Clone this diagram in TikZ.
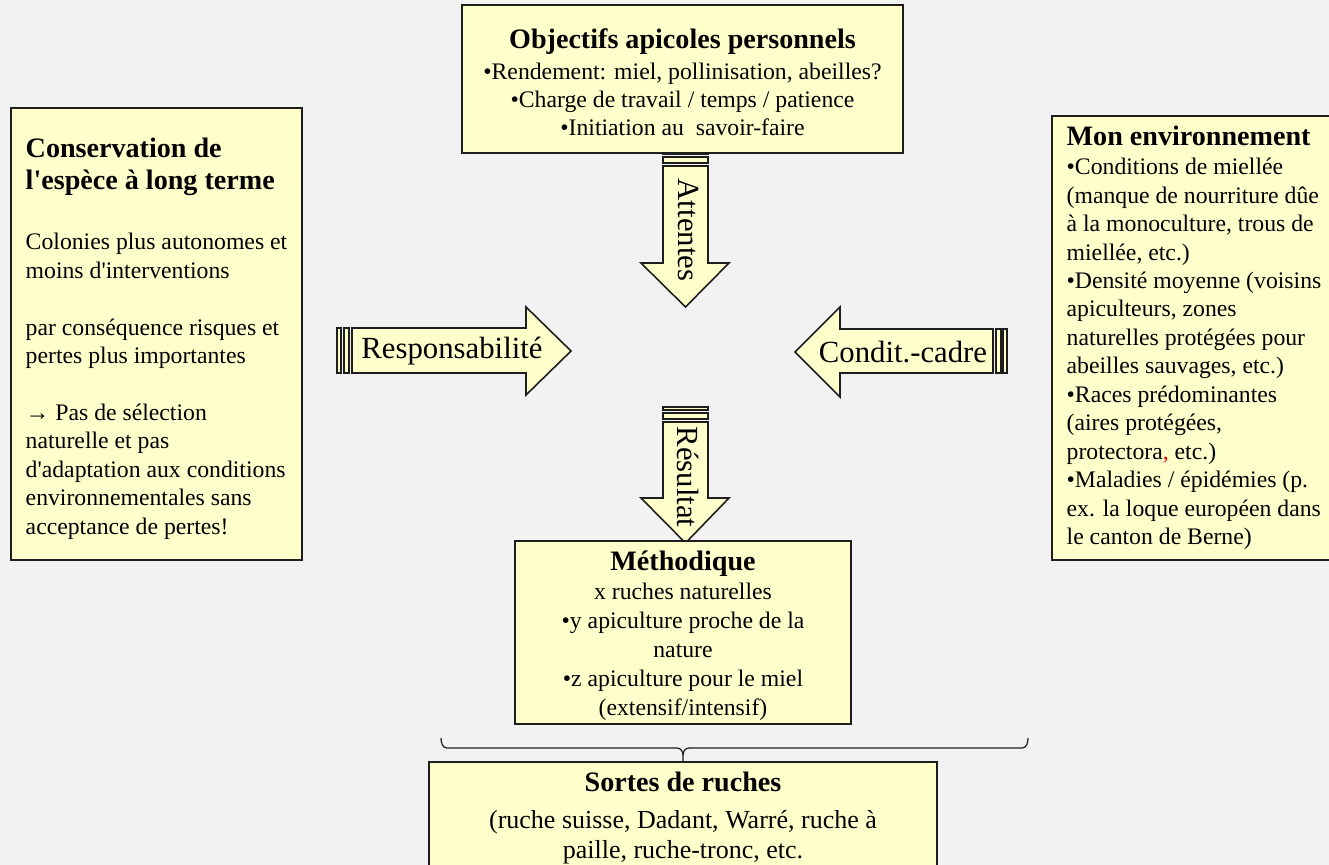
\documentclass[tikz,border=0pt]{standalone}
\usepackage{fontspec}
\setmainfont{Liberation Serif}
\definecolor{Paper}{HTML}{F2F2F2}
\definecolor{Butter}{HTML}{FFFFCC}
\definecolor{Ink}{HTML}{1E1E1E}
\newcommand\bodysize{\fontsize{13.5}{16.2}\selectfont}
\newcommand\headsize{\fontsize{16}{19}\selectfont\bfseries}
\newcommand\apos{\textquotesingle}
\newcommand\topgap[1]{\rule{0pt}{#1}}
\tikzset{
  panel/.style={draw=Ink,fill=Butter,line width=.9pt,inner sep=2pt,font=\bodysize},
  shaft/.style={draw=Ink,fill=Butter,line width=.9pt,line join=miter},
  tag/.style={font=\fontsize{17.5}{21}\selectfont,inner sep=0pt},
  bracket/.style={draw=Ink,line width=.7pt}
}
\begin{document}
\begin{tikzpicture}[x=0.02cm,y=-0.02cm]
  \useasboundingbox (0,0) rectangle (1329,865);
  \clip (0,0) rectangle (1329,865);
  \fill[Paper] (0,0) rectangle (1329,865);
  % striped arrows
  \draw[shaft] (663,150) rectangle (708,154);
  \draw[shaft] (663,157) rectangle (708,163);
  \draw[shaft] (663,166) -- (708,166) -- (708,263) -- (729,263) -- (685.5,307) -- (641,263) -- (663,263) -- cycle;
  \draw[shaft] (663,407) rectangle (708,410);
  \draw[shaft] (663,413) rectangle (708,419);
  \draw[shaft] (663,422) -- (708,422) -- (708,498) -- (729,498) -- (685.5,543) -- (641,498) -- (663,498) -- cycle;
  \draw[shaft] (337,328) rectangle (341,373);
  \draw[shaft] (344,328) rectangle (349,373);
  \draw[shaft] (352,328) -- (526,328) -- (526,307) -- (571,351) -- (526,395) -- (526,373) -- (352,373) -- cycle;
  \draw[shaft] (996,329) rectangle (1001,373);
  \draw[shaft] (1003,329) rectangle (1007,373);
  \draw[shaft] (993,329) -- (840,329) -- (840,307) -- (795,352) -- (840,397) -- (840,373) -- (993,373) -- cycle;
  \node[tag,rotate=-90] (att) at (688,230) {Attentes};
  \node[tag,rotate=-90] (res) at (688,477) {Résultat};
  \node[tag] (resp) at (452,351) {Responsabilité};
  \node[tag] (cond) at (903,352) {Condit.-cadre};
  % boxes
  \node[panel,align=center,minimum width=8.82cm,minimum height=2.96cm] (obj) at (682.5,79)
    {\topgap{15pt}{\headsize Objectifs apicoles personnels}\\[1.6pt]
     •Rendement: miel, pollinisation, abeilles?\\[-0.4pt]
     •Charge de travail / temps / patience\\[-0.4pt]
     •Initiation au~ savoir-faire};
  \node[panel,align=left,minimum width=5.82cm,minimum height=9.04cm] (cons) at (156.5,334)
    {\topgap{16.5pt}{\headsize Conservation de}\\[2pt]
     {\headsize l\apos espèce à long terme}\\[18pt]
     Colonies plus autonomes et\\
     moins d\apos interventions\\[16.2pt]
     par conséquence risques et\\
     pertes plus importantes\\[16.2pt]
     → Pas de sélection\\
     naturelle et pas\\
     d\apos adaptation aux conditions\\
     environnementales sans\\
     acceptance de pertes!};
  \node[panel,align=left,minimum width=5.68cm,minimum height=8.88cm] (env) at (1194,338)
    {{\headsize Mon environnement}\\[0.2pt]
     •Conditions de miellée\\
     (manque de nourriture dûe\\
     à la monoculture, trous de\\
     miellée, etc.)\\
     •Densité moyenne (voisins\\
     apiculteurs, zones\\
     naturelles protégées pour\\
     abeilles sauvages, etc.)\\
     •Races prédominantes\\
     (aires protégées,\\
     protectora{\color{red},} etc.)\\
     •Maladies / épidémies (p.\\
     ex. la loque européen dans\\
     le canton de Berne)};
  \node[panel,align=center,minimum width=6.72cm,minimum height=3.58cm] (meth) at (683,632.5)
    {\topgap{15pt}{\headsize Méthodique}\\[0pt]
     x ruches naturelles\\[0.3pt]
     •y apiculture proche de la\\[0.3pt]
     nature\\[0.3pt]
     •z apiculture pour le miel\\[0.3pt]
     (extensif/intensif)};
  \node[panel,align=center,minimum width=10.16cm,minimum height=2.16cm,font=\fontsize{14.8}{17}\selectfont] (sortes) at (683,816)
    {\topgap{13.5pt}{\headsize Sortes de ruches}\\[4pt]
     (ruche suisse, Dadant, Warré, ruche à\\
     paille, ruche-tronc, etc.};
  % brace over the hive types
  \coordinate (bl) at (441,738);
  \coordinate (br) at (1028,738);
  \draw[bracket] (bl) to[out=-90,in=180] (447,748) -- (677,748) to[out=0,in=90] (683,755) -- (sortes.north);
  \draw[bracket] (683,755) to[out=90,in=180] (689,748) -- (1022,748) to[out=0,in=-90] (br);
\end{tikzpicture}
\end{document}
